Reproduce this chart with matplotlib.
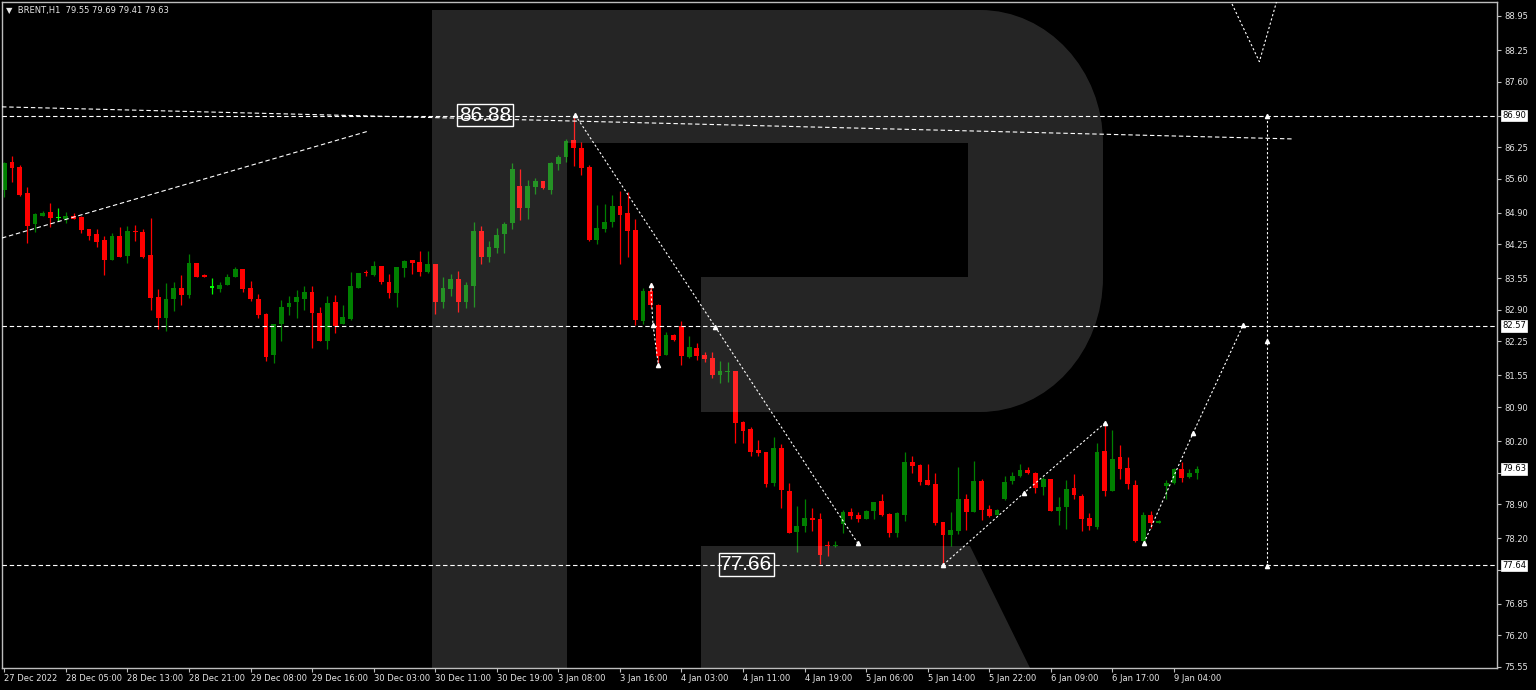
"""BRENT H1 candlestick chart with forecast overlay (MT4 style)."""

import matplotlib

matplotlib.use("Agg")
import matplotlib.pyplot as plt
import matplotlib.transforms as mtransforms
import numpy as np
from matplotlib.path import Path
from matplotlib.patches import PathPatch


# hourly bars, left to right
OPEN = [
    85.37, 85.94, 85.84, 85.31, 84.66, 84.83, 84.92, 84.80, 84.77, 84.83,
    84.81, 84.56, 84.46, 84.34, 83.93, 84.42, 84.01, 84.53, 84.50, 84.02,
    83.17, 82.74, 83.12, 83.35, 83.20, 83.87, 83.61, 83.36, 83.33, 83.41,
    83.57, 83.74, 83.35, 83.12, 82.82, 81.97, 82.60, 82.97, 83.06, 83.13,
    83.27, 82.84, 82.25, 83.06, 82.60, 82.72, 83.36, 83.69, 83.62, 83.80,
    83.47, 83.25, 83.77, 83.93, 83.89, 83.69, 83.85, 83.07, 83.33, 83.53,
    83.07, 83.39, 84.52, 83.99, 84.18, 84.46, 84.68, 85.45, 85.00, 85.44,
    85.55, 85.37, 85.90, 86.05, 86.40, 86.24, 85.85, 84.34, 84.56, 84.70,
    85.04, 84.90, 84.54, 82.67, 83.29, 83.01, 81.98, 82.38, 82.57, 81.94,
    82.11, 81.97, 81.92, 81.55, 81.63, 81.64, 80.59, 80.45, 80.01, 79.97,
    79.33, 80.05, 79.18, 78.33, 78.46, 78.61, 78.60, 78.06, 78.04, 78.49,
    78.73, 78.67, 78.59, 78.77, 78.97, 78.69, 78.31, 78.68, 79.76, 79.70,
    79.40, 79.32, 78.53, 78.27, 78.35, 79.01, 78.73, 79.38, 78.80, 78.67,
    79.00, 79.37, 79.49, 79.60, 79.54, 79.25, 79.41, 78.77, 78.85, 79.23,
    79.07, 78.61, 78.44, 80.00, 79.17, 79.88, 79.64, 79.30, 78.14, 78.68,
    78.51, 79.27, 79.33, 79.62, 79.47, 79.55,
]
HIGH = [
    85.95, 86.07, 85.88, 85.42, 84.89, 84.94, 85.11, 84.99, 84.92, 84.89,
    84.83, 84.57, 84.56, 84.42, 84.48, 84.60, 84.63, 84.65, 84.56, 84.79,
    83.34, 83.45, 83.48, 83.62, 84.06, 83.87, 83.64, 83.56, 83.47, 83.63,
    83.79, 83.74, 83.49, 83.23, 82.84, 82.62, 83.10, 83.19, 83.31, 83.39,
    83.40, 82.95, 83.19, 83.20, 83.01, 83.68, 83.66, 83.72, 83.90, 83.81,
    83.63, 83.79, 83.93, 83.93, 84.11, 84.11, 83.85, 83.58, 83.64, 83.70,
    83.48, 84.70, 84.63, 84.32, 84.58, 84.70, 85.92, 85.81, 85.57, 85.62,
    85.55, 85.94, 86.09, 86.41, 86.88, 86.35, 85.88, 85.06, 85.08, 85.26,
    85.35, 85.33, 84.77, 83.36, 83.45, 83.02, 82.44, 82.40, 82.68, 82.36,
    82.22, 82.03, 82.03, 81.85, 81.82, 81.64, 80.61, 80.48, 80.22, 79.98,
    80.29, 80.15, 79.33, 78.86, 79.00, 78.83, 78.71, 78.14, 78.14, 78.78,
    78.82, 78.73, 78.78, 78.95, 79.11, 78.71, 78.75, 79.98, 79.90, 79.72,
    79.72, 79.54, 78.53, 78.75, 79.66, 79.11, 79.78, 79.42, 78.88, 78.80,
    79.48, 79.57, 79.73, 79.67, 79.57, 79.47, 79.42, 79.04, 79.40, 79.52,
    79.12, 78.71, 80.17, 80.58, 80.43, 80.11, 79.88, 79.40, 78.75, 78.76,
    78.57, 79.40, 79.64, 79.76, 79.62, 79.69,
]
LOW = [
    85.23, 85.54, 85.25, 84.28, 84.51, 84.83, 84.61, 84.74, 84.68, 84.78,
    84.49, 84.34, 84.19, 83.62, 83.93, 83.98, 83.87, 84.32, 83.97, 82.90,
    82.51, 82.47, 82.88, 83.01, 83.15, 83.57, 83.58, 83.23, 83.27, 83.41,
    83.57, 83.27, 83.09, 82.74, 81.85, 81.80, 82.26, 82.80, 82.74, 82.90,
    82.12, 82.25, 82.09, 82.42, 82.60, 82.69, 83.36, 83.60, 83.60, 83.43,
    83.15, 82.95, 83.58, 83.63, 83.60, 83.67, 82.82, 82.93, 83.19, 82.86,
    82.93, 82.95, 83.84, 83.89, 84.08, 84.08, 84.56, 84.76, 84.78, 85.28,
    85.38, 85.28, 85.79, 85.95, 85.87, 85.68, 84.32, 84.26, 84.51, 84.60,
    83.84, 83.99, 82.59, 82.62, 82.93, 81.80, 81.97, 82.27, 81.77, 81.90,
    81.87, 81.83, 81.49, 81.39, 81.42, 80.17, 80.17, 79.90, 79.90, 79.26,
    79.27, 78.82, 78.30, 77.92, 78.32, 78.35, 77.66, 77.83, 78.01, 78.31,
    78.59, 78.54, 78.59, 78.59, 78.66, 78.22, 78.22, 78.55, 79.55, 79.30,
    79.29, 78.47, 77.63, 78.05, 78.29, 78.36, 78.73, 78.57, 78.64, 78.67,
    78.99, 79.31, 79.47, 79.52, 79.14, 79.08, 78.76, 78.47, 78.38, 79.00,
    78.35, 78.37, 78.40, 79.06, 79.17, 79.42, 79.21, 78.13, 78.09, 78.42,
    78.51, 79.01, 79.31, 79.36, 79.45, 79.41,
]
CLOSE = [
    85.93, 85.83, 85.27, 84.63, 84.87, 84.89, 84.80, 84.80, 84.83, 84.78,
    84.54, 84.43, 84.30, 83.93, 84.43, 83.99, 84.52, 84.50, 83.99, 83.15,
    82.74, 83.12, 83.35, 83.20, 83.87, 83.58, 83.58, 83.36, 83.41, 83.58,
    83.74, 83.33, 83.12, 82.80, 81.94, 82.61, 82.95, 83.05, 83.17, 83.27,
    82.84, 82.25, 83.05, 82.57, 82.75, 83.39, 83.66, 83.65, 83.81, 83.47,
    83.25, 83.78, 83.91, 83.86, 83.69, 83.85, 83.07, 83.35, 83.53, 83.07,
    83.41, 84.52, 83.99, 84.20, 84.45, 84.67, 85.80, 85.00, 85.45, 85.55,
    85.40, 85.92, 86.05, 86.38, 86.23, 85.83, 84.34, 84.58, 84.70, 85.04,
    84.85, 84.52, 82.69, 83.29, 83.00, 81.96, 82.38, 82.28, 81.95, 82.13,
    81.95, 81.88, 81.56, 81.64, 81.64, 80.58, 80.41, 79.98, 79.95, 79.31,
    80.05, 79.19, 78.31, 78.45, 78.61, 78.57, 77.85, 78.03, 78.07, 78.73,
    78.66, 78.59, 78.76, 78.95, 78.67, 78.31, 78.71, 79.76, 79.69, 79.36,
    79.29, 78.52, 78.27, 78.37, 79.01, 78.73, 79.38, 78.79, 78.66, 78.78,
    79.36, 79.49, 79.60, 79.55, 79.23, 79.41, 78.77, 78.85, 79.21, 79.08,
    78.60, 78.46, 79.97, 79.17, 79.84, 79.63, 79.31, 78.14, 78.68, 78.52,
    78.56, 79.33, 79.62, 79.45, 79.55, 79.63,
]

TIME_LABELS = [
    "27 Dec 2022", "28 Dec 05:00", "28 Dec 13:00", "28 Dec 21:00",
    "29 Dec 08:00", "29 Dec 16:00", "30 Dec 03:00", "30 Dec 11:00",
    "30 Dec 19:00", "3 Jan 08:00", "3 Jan 16:00", "4 Jan 03:00",
    "4 Jan 11:00", "4 Jan 19:00", "5 Jan 06:00", "5 Jan 14:00",
    "5 Jan 22:00", "6 Jan 09:00", "6 Jan 17:00", "9 Jan 04:00",
]
BARS_PER_LABEL = 8

PRICE_TICKS = [
    88.95, 88.25, 87.60, 86.90, 86.25, 85.60, 84.90, 84.25, 83.55, 82.90,
    82.25, 81.55, 80.90, 80.20, 79.55, 78.90, 78.20, 77.55, 76.85, 76.20,
    75.55,
]
LEVELS = [86.90, 82.57, 77.64]
LAST_PRICE = 79.63
HEADER = "\u25bc  BRENT,H1  79.55 79.69 79.41 79.63"

# analysis overlay: (bar, price) points
OLD_TREND_UP = [(-0.3, 84.38), (47.3, 86.58)]
OLD_TREND_FLAT = [(-0.3, 87.08), (167.3, 86.42)]
WAVE_DOWN = [(74.2, 86.91), (92.4, 82.55), (110.9, 78.10)]
WAVE_SMALL = [(84.0, 83.41), (84.3, 82.59), (85.0, 81.77)]
WAVE_UP_1 = [(122.0, 77.65), (132.5, 79.13), (143.1, 80.58)]
WAVE_UP_2 = [(148.1, 78.10), (154.5, 80.37), (161.0, 82.59)]
TARGET_RANGE = [(164.1, 86.90), (164.1, 82.26), (164.1, 77.62)]
TOP_V = [(159.3, 89.28), (163.1, 88.01), (165.4, 89.28)]
PEAK = (74, 86.88)
TROUGH = (106, 77.66)

# RoboForex "R" watermark outline in screenshot pixels
R_VERTS = [
    (432, 10), (980, 10), (1048, 10), (1103, 70), (1103, 143), (1103, 277),
    (1103, 352), (1048, 412), (980, 412), (701, 412), (701, 277), (968, 277),
    (968, 143), (567, 143), (567, 668), (432, 668), (432, 10),
]
R_CODES = [
    Path.MOVETO, Path.LINETO, Path.CURVE4, Path.CURVE4, Path.CURVE4,
    Path.LINETO, Path.CURVE4, Path.CURVE4, Path.CURVE4, Path.LINETO,
    Path.LINETO, Path.LINETO, Path.LINETO, Path.LINETO, Path.LINETO,
    Path.LINETO, Path.CLOSEPOLY,
]
LEG_VERTS = [(701, 546), (970, 546), (1030, 668), (701, 668)]

# screenshot geometry
W, H = 1536, 690
AX_L, AX_R, AX_T, AX_B = 2, 1497, 2, 668

TEXT = "#e6e6e6"
FRAME = "#bdbdbd"
BIG_FONT = ["Liberation Sans Narrow", "Liberation Sans", "DejaVu Sans"]


def to_axes(points):
    return [((x - AX_L) / (AX_R - AX_L), (AX_B - y) / (AX_B - AX_T)) for x, y in points]


def overlay(ax, pts, dashes, marks=True):
    xs, ys = zip(*pts)
    ax.plot(xs, ys, color="white", lw=0.8, dashes=dashes, zorder=5)
    if marks:
        ax.plot(xs, ys, ls="none", marker="^", ms=3, color="white", zorder=5)


fig = plt.figure(figsize=(W / 100, H / 100), dpi=100, facecolor="black")
ax = fig.add_axes([AX_L / W, (H - AX_B) / H, (AX_R - AX_L) / W, (AX_B - AX_T) / H])
ax.set_facecolor("black")

o = np.array(OPEN)
h = np.array(HIGH)
l = np.array(LOW)
c = np.array(CLOSE)
x = np.arange(len(o))

colors = np.where(c > o, "#008000", "#ff0000")
colors = np.where(np.isclose(c, o), "#00ff00", colors)

ax.vlines(x, l, h, colors=colors, lw=0.9, zorder=2)
ax.bar(x, np.maximum(np.abs(c - o), 0.022), bottom=np.minimum(o, c),
       width=0.62, color=colors, linewidth=0, zorder=2)

# horizontal levels
for lvl in LEVELS:
    ax.axhline(lvl, color="white", lw=0.8, dashes=(4, 2.5), zorder=5)

overlay(ax, OLD_TREND_UP, (4, 2.5), marks=False)
overlay(ax, OLD_TREND_FLAT, (4, 2.5), marks=False)
for wave in (WAVE_DOWN, WAVE_SMALL, WAVE_UP_1, WAVE_UP_2, TARGET_RANGE):
    overlay(ax, wave, (2, 2))
overlay(ax, TOP_V, (2, 2), marks=False)

box = dict(boxstyle="square,pad=0.08", fc="none", ec="white", lw=1)
ax.annotate(f"{PEAK[1]:.2f}", xy=PEAK, xytext=(-64, 1), textcoords="offset points",
            ha="center", va="center", color="white", fontsize=15, family=BIG_FONT,
            bbox=box, zorder=6)
ax.annotate(f"{TROUGH[1]:.2f}", xy=TROUGH, xytext=(-53, 0), textcoords="offset points",
            ha="center", va="center", color="white", fontsize=15, family=BIG_FONT,
            bbox=box, zorder=6)

# watermark drawn over the candles, like the terminal does
r_path = Path(to_axes(R_VERTS), R_CODES)
ax.add_patch(PathPatch(r_path, fc="white", alpha=0.15, lw=0, transform=ax.transAxes, zorder=3))
ax.add_patch(plt.Polygon(to_axes(LEG_VERTS), closed=True, fc="white", alpha=0.15, lw=0,
                         transform=ax.transAxes, zorder=3))

px_per_bar = 7.695
first_bar_px = 4.3
ax.set_xlim((AX_L - first_bar_px) / px_per_bar, (AX_R - first_bar_px) / px_per_bar)
px_per_price = 48.58
ax.set_ylim(88.95 - (AX_B - 16) / px_per_price, 88.95 + (16 - AX_T) / px_per_price)

ax.set_xticks(np.arange(len(TIME_LABELS)) * BARS_PER_LABEL)
ax.set_xticklabels(TIME_LABELS, ha="left")

# tick labels hidden behind the level boxes are left blank
boxed = LEVELS + [LAST_PRICE]
ax.yaxis.tick_right()
ax.set_yticks(PRICE_TICKS)
ax.set_yticklabels(["" if min(abs(v - b) for b in boxed) < 0.12 else f"{v:.2f}"
                    for v in PRICE_TICKS])
ax.tick_params(axis="both", colors=FRAME, labelcolor=TEXT, labelsize=6, length=3, width=0.8, pad=2)
ax.tick_params(axis="x", pad=1.5)
for spine in ax.spines.values():
    spine.set_color(FRAME)
    spine.set_linewidth(1)

right_edge = mtransforms.blended_transform_factory(ax.transAxes, ax.transData)
for lvl in boxed:
    ax.text(1.0035, lvl, f"{lvl:.2f}", transform=right_edge, fontsize=6, color="black",
            va="center", ha="left", clip_on=False, zorder=7,
            bbox=dict(boxstyle="square,pad=0.15", fc="white", ec="white", lw=0.5))

fig.text(6 / W, 1 - 10 / H, HEADER, color=TEXT, fontsize=6, va="center", ha="left")

fig.savefig("out.png", dpi=100, facecolor="black")
plt.close(fig)
